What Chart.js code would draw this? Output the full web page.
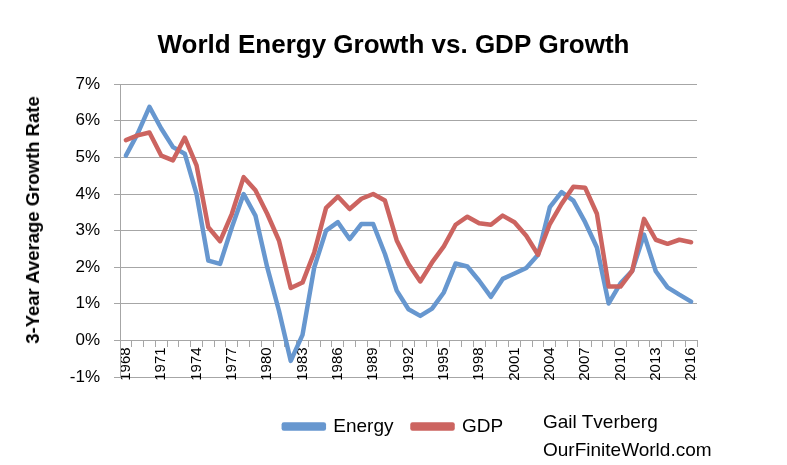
<!DOCTYPE html>
<html>
<head>
<meta charset="utf-8">
<script src="https://cdn.jsdelivr.net/npm/chart.js@4.4.1/dist/chart.umd.min.js"></script>
<style>
  html, body { margin: 0; padding: 0; background: #fff; }
  #wrap { position: relative; width: 787px; height: 465px; }
  #source {
    position: absolute; left: 543px; top: 408px;
    font: 19px "Liberation Sans", Arial, sans-serif;
    line-height: 28px; color: #000;
  }
  #ytitle {
    position: absolute; left: 33px; top: 220px;
    transform: translate(-50%, -50%) rotate(-90deg);
    white-space: nowrap;
    font: bold 18.5px "Liberation Sans", Arial, sans-serif;
    color: #000;
  }
</style>
</head>
<body>
<div id="wrap">
  <canvas id="chart" width="787" height="465"></canvas>
  <div id="ytitle">3-Year Average Growth Rate</div>
  <div id="source">Gail Tverberg<br>OurFiniteWorld.com</div>
</div>
<script>
const years = [
  "1968", "1969", "1970", "1971", "1972", "1973", "1974", "1975", "1976", "1977",
  "1978", "1979", "1980", "1981", "1982", "1983", "1984", "1985", "1986", "1987",
  "1988", "1989", "1990", "1991", "1992", "1993", "1994", "1995", "1996", "1997",
  "1998", "1999", "2000", "2001", "2002", "2003", "2004", "2005", "2006", "2007",
  "2008", "2009", "2010", "2011", "2012", "2013", "2014", "2015", "2016"
];

// 3-year average growth, percent
const energyGrowth = [
  5.05, 5.65, 6.38, 5.79, 5.28, 5.10, 4.00, 2.18, 2.09, 3.09,
  4.00, 3.41, 2.00, 0.81, -0.56, 0.15, 2.00, 3.00, 3.23, 2.77,
  3.18, 3.18, 2.36, 1.36, 0.85, 0.67, 0.87, 1.31, 2.10, 2.02,
  1.63, 1.19, 1.68, 1.83, 1.98, 2.34, 3.64, 4.05, 3.82, 3.23,
  2.54, 1.01, 1.56, 1.90, 2.89, 1.89, 1.45, 1.25, 1.06
];

const gdpGrowth = [
  5.47, 5.60, 5.68, 5.05, 4.92, 5.54, 4.78, 3.09, 2.71, 3.46,
  4.46, 4.10, 3.46, 2.73, 1.43, 1.58, 2.41, 3.62, 3.93, 3.59,
  3.87, 4.00, 3.82, 2.73, 2.09, 1.61, 2.13, 2.57, 3.16, 3.38,
  3.20, 3.16, 3.41, 3.23, 2.86, 2.34, 3.18, 3.73, 4.20, 4.17,
  3.46, 1.47, 1.47, 1.90, 3.32, 2.75, 2.64, 2.75, 2.68
];

const yMin = -1;
const yMax = 7;
const yStep = 1;
const labelEvery = 3;

const gridColor = "#a6a6a6";
const blue = "#6797cf";
const red = "#cc6460";
const fontFamily = '"Liberation Sans", Arial, sans-serif';

new Chart(document.getElementById("chart"), {
  type: "line",
  data: {
    labels: years,
    datasets: [
      {
        label: "Energy",
        data: energyGrowth,
        borderColor: blue,
        backgroundColor: blue,
        borderWidth: 4.5,
        pointRadius: 0,
        tension: 0,
        borderJoinStyle: "round",
        borderCapStyle: "round",
        order: 1,
      },
      {
        label: "GDP",
        data: gdpGrowth,
        borderColor: red,
        backgroundColor: red,
        borderWidth: 4.5,
        pointRadius: 0,
        tension: 0,
        borderJoinStyle: "round",
        borderCapStyle: "round",
        order: 0,
      },
    ],
  },
  options: {
    responsive: false,
    animation: false,
    layout: { padding: { left: 0, right: 0, top: 0, bottom: 19 } },
    plugins: {
      title: {
        display: true,
        text: "World Energy Growth vs. GDP Growth",
        color: "#000",
        font: { family: fontFamily, size: 26, weight: "bold" },
        padding: { top: 30, bottom: 23 },
      },
      legend: {
        position: "bottom",
        labels: {
          color: "#000",
          font: { family: fontFamily, size: 19 },
          boxWidth: 40,
          boxHeight: 4,
          padding: 19,
          sort: (a, b) => a.datasetIndex - b.datasetIndex,
        },
      },
      tooltip: { enabled: false },
    },
    scales: {
      x: {
        position: { y: 0 },
        offset: true,
        grid: {
          display: true,
          drawOnChartArea: false,
          drawTicks: true,
          tickLength: 6,
          offset: true,
          color: gridColor,
        },
        border: { display: true, color: gridColor, width: 1 },
        ticks: {
          autoSkip: false,
          minRotation: 90,
          maxRotation: 90,
          padding: 1,
          color: "#000",
          font: { family: fontFamily, size: 15 },
          callback: function (value, index) {
            return index % labelEvery === 0 ? this.getLabelForValue(value) : "";
          },
        },
      },
      y: {
        min: yMin,
        max: yMax,
        ticks: {
          stepSize: yStep,
          padding: 14,
          color: "#000",
          font: { family: fontFamily, size: 17 },
          callback: (v) => v + "%",
        },
        grid: { color: gridColor, tickLength: 6, lineWidth: 1 },
        border: { display: true, color: gridColor, width: 1 },
        afterFit: (scale) => { scale.width = 120; },
      },
      // empty axes that only reserve room, to place the plot area
      spacerRight: {
        type: "linear",
        position: "right",
        display: true,
        ticks: { display: false },
        grid: { display: false },
        border: { display: false },
        afterFit: (scale) => { scale.width = 90; },
      },
      spacerBottom: {
        type: "category",
        position: "bottom",
        display: true,
        ticks: { display: false },
        grid: { display: false },
        border: { display: false },
        afterFit: (scale) => { scale.height = 21; },
      },
    },
  },
});
</script>
</body>
</html>
